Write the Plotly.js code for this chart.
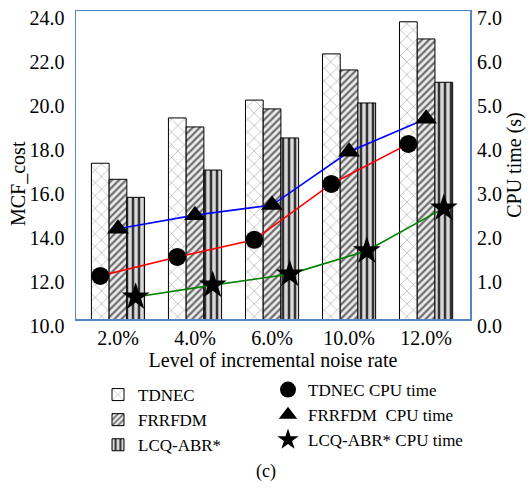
<!DOCTYPE html>
<html>
<head>
<meta charset="utf-8">
<script src="https://cdn.plot.ly/plotly-3.0.1.min.js"></script>
<style>html,body{margin:0;padding:0;background:#fff;}#chart{width:532px;height:488px;}</style>
</head>
<body>
<div id="chart"></div>
<script>
// ---- data ----
const categories = ["2.0%", "4.0%", "6.0%", "10.0%", "12.0%"];
const tdnecCost  = [17.08, 19.14, 19.95, 22.05, 23.51];
const frrfdmCost = [16.35, 18.73, 19.55, 21.32, 22.73];
const lcqCost    = [15.53, 16.77, 18.23, 19.82, 20.76];
const tdnecCpu   = [0.98, 1.41, 1.80, 3.07, 3.98];
const frrfdmCpu  = [2.05, 2.36, 2.59, 3.80, 4.55];
const lcqCpu     = [0.50, 0.77, 1.02, 1.55, 2.52];
const leftTicks  = [10, 12, 14, 16, 18, 20, 22, 24];
const rightTicks = [0, 1, 2, 3, 4, 5, 6, 7];

// ---- layout helpers ----
const FONT = "Liberation Serif";
const idx = categories.map((c, i) => i);
const BARGAP = 0.31;
const barW = (1 - BARGAP) / 3;
const shifted = (k) => idx.map(i => i + (k - 1) * barW);

const barLine = {color: '#000', width: 1};
const traces = [
  {type: 'bar', name: 'TDNEC', x: idx, y: tdnecCost, legend: 'legend',
   marker: {color: '#fff', line: barLine,
            pattern: {shape: 'x', fgcolor: '#9a9a9a', bgcolor: '#ffffff', size: 9, solidity: 0.12}}},
  {type: 'bar', name: 'FRRFDM', x: idx, y: frrfdmCost, legend: 'legend',
   marker: {color: '#fff', line: barLine,
            pattern: {shape: '/', fgcolor: '#6e6e6e', bgcolor: '#ececec', size: 5, solidity: 0.45}}},
  {type: 'bar', name: 'LCQ-ABR*', x: idx, y: lcqCost, legend: 'legend',
   marker: {color: '#fff', line: barLine,
            pattern: {shape: '|', fgcolor: '#333333', bgcolor: '#d8d8d8', size: 6, solidity: 0.42}}},
  // lines
  {type: 'scatter', mode: 'lines', x: shifted(0), y: tdnecCpu, yaxis: 'y2', showlegend: false,
   line: {color: '#ff0000', width: 1.6}, hoverinfo: 'skip'},
  {type: 'scatter', mode: 'lines', x: shifted(1), y: frrfdmCpu, yaxis: 'y2', showlegend: false,
   line: {color: '#0000ff', width: 1.6}, hoverinfo: 'skip'},
  {type: 'scatter', mode: 'lines', x: shifted(2), y: lcqCpu, yaxis: 'y2', showlegend: false,
   line: {color: '#008000', width: 1.6}, hoverinfo: 'skip'},
  // markers
  {type: 'scatter', mode: 'markers', name: 'TDNEC CPU time', x: shifted(0), y: tdnecCpu, yaxis: 'y2',
   legend: 'legend2', marker: {symbol: 'circle', size: 18, color: '#000'}},
  {type: 'scatter', mode: 'markers', name: 'FRRFDM  CPU time', x: shifted(1), y: frrfdmCpu, yaxis: 'y2',
   legend: 'legend2', marker: {symbol: 'triangle-up', size: 19, color: '#000'}},
  {type: 'scatter', mode: 'markers', name: 'LCQ-ABR* CPU time', x: shifted(2), y: lcqCpu, yaxis: 'y2',
   legend: 'legend2', marker: {symbol: 'star', size: 21, color: '#000'}}
];

const frameColor = '#5585c8';
const W = 532, H = 488, ML = 76, MR = 62, MT = 11, MB = 169;
const pw = W - ML - MR, ph = H - MT - MB;
const px2x = (p) => (p - ML) / pw;
const px2y = (p) => (H - MB - p) / ph;
const legendFont = {family: FONT, size: 17, color: '#000'};

const layout = {
  width: W, height: H,
  margin: {l: ML, r: MR, t: MT, b: MB, autoexpand: false},
  paper_bgcolor: '#fff', plot_bgcolor: '#fff',
  font: {family: FONT, size: 20, color: '#000'},
  barmode: 'group', bargap: BARGAP, bargroupgap: 0,
  showlegend: true,
  xaxis: {
    range: [-0.545, 4.57], tickmode: 'array', tickvals: idx, ticktext: categories,
    showgrid: false, zeroline: false, showline: true, mirror: true, automargin: false,
    linecolor: frameColor, linewidth: 1.5, ticks: '', fixedrange: true,
    tickfont: {family: FONT, size: 20},
    title: {text: 'Level of incremental noise rate', font: {family: FONT, size: 20}, standoff: 1}
  },
  yaxis: {
    range: [10, 24], tickmode: 'array', tickvals: leftTicks,
    ticktext: leftTicks.map(v => v.toFixed(1)), automargin: false,
    showgrid: false, zeroline: false, showline: true, mirror: true,
    linecolor: frameColor, linewidth: 1.5, ticks: '',
    ticklabelshift: 7, ticklabelstandoff: 6,
    tickfont: {family: FONT, size: 20}
  },
  yaxis2: {
    range: [0, 7], overlaying: 'y', side: 'right', tickmode: 'array', tickvals: rightTicks,
    ticktext: rightTicks.map(v => v.toFixed(1)), automargin: false,
    showgrid: false, zeroline: false, showline: false, ticks: '',
    ticklabelshift: 7, ticklabelstandoff: 6,
    tickfont: {family: FONT, size: 20},
    title: {text: 'CPU time (s)', font: {family: FONT, size: 20}, standoff: 5}
  },
  legend: {
    orientation: 'v', x: px2x(98), xanchor: 'left', y: px2y(377), yanchor: 'top',
    tracegroupgap: 0, font: legendFont, bgcolor: 'rgba(0,0,0,0)'
  },
  legend2: {
    orientation: 'v', x: px2x(268), xanchor: 'left', y: px2y(372), yanchor: 'top',
    tracegroupgap: 0, font: legendFont, bgcolor: 'rgba(0,0,0,0)'
  },
  annotations: [
    {text: 'MCF_cost', xref: 'paper', yref: 'paper', x: px2x(18), y: px2y(184), textangle: -90,
     showarrow: false, xanchor: 'center', yanchor: 'middle', font: {family: FONT, size: 20}},
    {text: '(c)', xref: 'paper', yref: 'paper', x: px2x(266), y: px2y(471),
     showarrow: false, xanchor: 'center', yanchor: 'middle', font: {family: FONT, size: 18}}
  ]
};

Plotly.newPlot('chart', traces, layout, {staticPlot: true, displayModeBar: false});
</script>
</body>
</html>
